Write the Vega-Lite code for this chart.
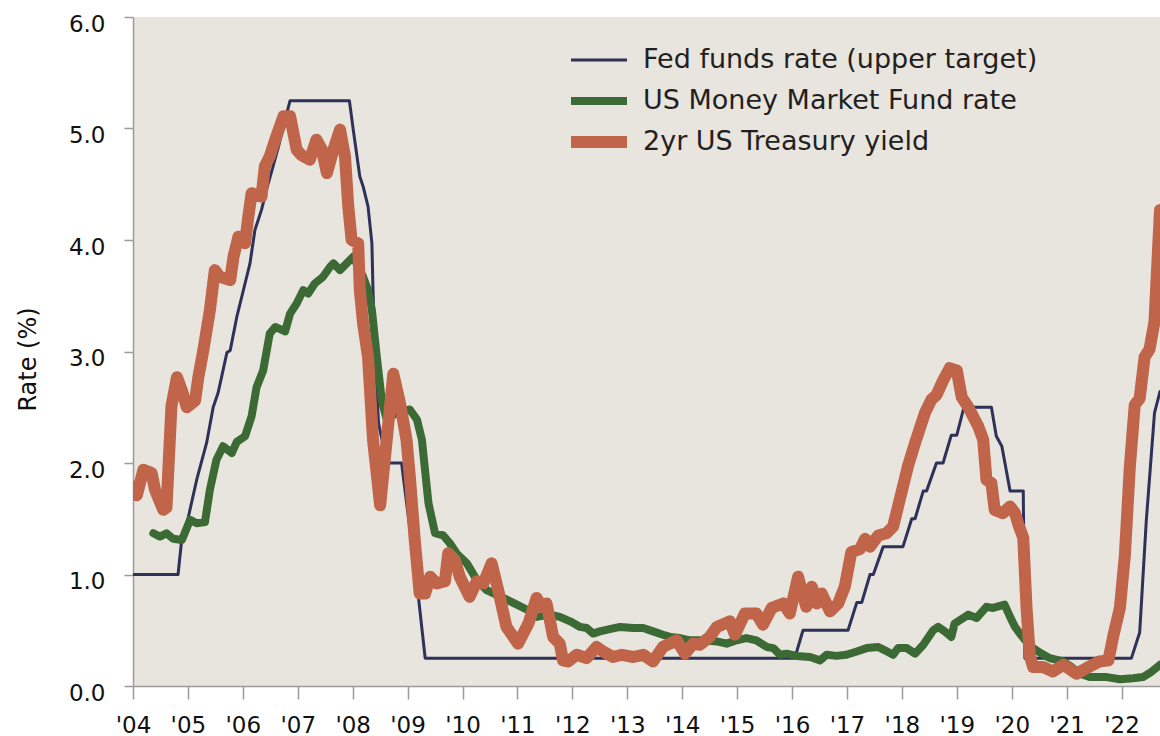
{
  "$schema": "https://vega.github.io/schema/vega-lite/v6.json",
  "width": 1027,
  "height": 669,
  "autosize": {"type": "none"},
  "padding": {"left": 133, "top": 17, "right": 0, "bottom": 50},
  "background": "#ffffff",
  "config": {
    "view": {"fill": "#E8E4DE", "stroke": null},
    "axis": {
      "grid": false,
      "domainColor": "#9b9b9b",
      "domainWidth": 1.5,
      "tickColor": "#9b9b9b",
      "tickWidth": 1.5,
      "labelFont": "DejaVu Sans",
      "labelFontSize": 23,
      "labelColor": "#111111",
      "titleFont": "DejaVu Sans",
      "titleFontSize": 24,
      "titleFontWeight": "normal",
      "titleColor": "#111111"
    }
  },
  "datasets": {
    "series": [
      {"k": "F", "name": "Fed funds rate (upper target)"},
      {"k": "M", "name": "US Money Market Fund rate"},
      {"k": "T", "name": "2yr US Treasury yield"}
    ],
    "rates": [
      {"k":"F","t":2004.00,"v":1.00},{"k":"F","t":2004.82,"v":1.00},{"k":"F","t":2004.88,"v":1.28},{"k":"F","t":2005.01,"v":1.52},
      {"k":"F","t":2005.16,"v":1.85},{"k":"F","t":2005.34,"v":2.18},{"k":"F","t":2005.46,"v":2.50},{"k":"F","t":2005.55,"v":2.63},
      {"k":"F","t":2005.71,"v":2.99},{"k":"F","t":2005.77,"v":3.01},{"k":"F","t":2005.89,"v":3.31},{"k":"F","t":2006.04,"v":3.61},
      {"k":"F","t":2006.13,"v":3.79},{"k":"F","t":2006.22,"v":4.09},{"k":"F","t":2006.34,"v":4.27},{"k":"F","t":2006.43,"v":4.45},
      {"k":"F","t":2006.55,"v":4.66},{"k":"F","t":2006.65,"v":4.84},{"k":"F","t":2006.77,"v":5.08},{"k":"F","t":2006.86,"v":5.25},
      {"k":"F","t":2007.94,"v":5.25},{"k":"F","t":2008.01,"v":4.99},{"k":"F","t":2008.13,"v":4.57},{"k":"F","t":2008.19,"v":4.48},
      {"k":"F","t":2008.28,"v":4.30},{"k":"F","t":2008.35,"v":3.97},{"k":"F","t":2008.37,"v":3.55},{"k":"F","t":2008.41,"v":2.95},
      {"k":"F","t":2008.47,"v":2.36},{"k":"F","t":2008.62,"v":2.00},{"k":"F","t":2008.89,"v":2.00},{"k":"F","t":2009.19,"v":0.83},
      {"k":"F","t":2009.32,"v":0.25},{"k":"F","t":2016.05,"v":0.25},{"k":"F","t":2016.20,"v":0.50},{"k":"F","t":2017.02,"v":0.50},
      {"k":"F","t":2017.18,"v":0.75},{"k":"F","t":2017.27,"v":0.75},{"k":"F","t":2017.42,"v":1.00},{"k":"F","t":2017.48,"v":1.00},
      {"k":"F","t":2017.66,"v":1.25},{"k":"F","t":2018.02,"v":1.25},{"k":"F","t":2018.18,"v":1.50},{"k":"F","t":2018.24,"v":1.50},
      {"k":"F","t":2018.39,"v":1.75},{"k":"F","t":2018.45,"v":1.75},{"k":"F","t":2018.63,"v":2.00},{"k":"F","t":2018.75,"v":2.00},
      {"k":"F","t":2018.90,"v":2.25},{"k":"F","t":2019.00,"v":2.25},{"k":"F","t":2019.13,"v":2.50},{"k":"F","t":2019.63,"v":2.50},
      {"k":"F","t":2019.72,"v":2.24},{"k":"F","t":2019.82,"v":2.15},{"k":"F","t":2019.97,"v":1.75},{"k":"F","t":2020.21,"v":1.75},
      {"k":"F","t":2020.24,"v":0.25},{"k":"F","t":2022.18,"v":0.25},{"k":"F","t":2022.33,"v":0.48},{"k":"F","t":2022.45,"v":1.48},
      {"k":"F","t":2022.60,"v":2.45},{"k":"F","t":2022.70,"v":2.64},

      {"k":"M","t":2004.37,"v":1.37},{"k":"M","t":2004.49,"v":1.34},{"k":"M","t":2004.61,"v":1.37},{"k":"M","t":2004.73,"v":1.32},
      {"k":"M","t":2004.89,"v":1.31},{"k":"M","t":2005.04,"v":1.49},{"k":"M","t":2005.16,"v":1.46},{"k":"M","t":2005.31,"v":1.47},
      {"k":"M","t":2005.40,"v":1.76},{"k":"M","t":2005.52,"v":2.03},{"k":"M","t":2005.64,"v":2.15},{"k":"M","t":2005.80,"v":2.09},
      {"k":"M","t":2005.89,"v":2.19},{"k":"M","t":2006.04,"v":2.24},{"k":"M","t":2006.16,"v":2.42},{"k":"M","t":2006.25,"v":2.68},
      {"k":"M","t":2006.37,"v":2.83},{"k":"M","t":2006.49,"v":3.16},{"k":"M","t":2006.59,"v":3.22},{"k":"M","t":2006.77,"v":3.18},
      {"k":"M","t":2006.86,"v":3.34},{"k":"M","t":2006.98,"v":3.43},{"k":"M","t":2007.10,"v":3.55},{"k":"M","t":2007.19,"v":3.52},
      {"k":"M","t":2007.31,"v":3.61},{"k":"M","t":2007.46,"v":3.67},{"k":"M","t":2007.59,"v":3.76},{"k":"M","t":2007.65,"v":3.79},
      {"k":"M","t":2007.77,"v":3.73},{"k":"M","t":2007.89,"v":3.79},{"k":"M","t":2008.01,"v":3.85},{"k":"M","t":2008.19,"v":3.67},
      {"k":"M","t":2008.28,"v":3.55},{"k":"M","t":2008.35,"v":3.37},{"k":"M","t":2008.44,"v":2.95},{"k":"M","t":2008.53,"v":2.56},
      {"k":"M","t":2008.62,"v":2.39},{"k":"M","t":2008.80,"v":2.45},{"k":"M","t":2009.04,"v":2.48},{"k":"M","t":2009.17,"v":2.39},
      {"k":"M","t":2009.26,"v":2.21},{"k":"M","t":2009.38,"v":1.64},{"k":"M","t":2009.50,"v":1.37},{"k":"M","t":2009.65,"v":1.35},
      {"k":"M","t":2009.77,"v":1.28},{"k":"M","t":2009.89,"v":1.19},{"k":"M","t":2010.08,"v":1.10},{"k":"M","t":2010.26,"v":0.95},
      {"k":"M","t":2010.44,"v":0.86},{"k":"M","t":2010.74,"v":0.79},{"k":"M","t":2010.99,"v":0.73},{"k":"M","t":2011.23,"v":0.67},
      {"k":"M","t":2011.35,"v":0.62},{"k":"M","t":2011.59,"v":0.64},{"k":"M","t":2011.77,"v":0.62},{"k":"M","t":2011.96,"v":0.58},
      {"k":"M","t":2012.14,"v":0.53},{"k":"M","t":2012.26,"v":0.52},{"k":"M","t":2012.38,"v":0.47},{"k":"M","t":2012.50,"v":0.49},
      {"k":"M","t":2012.68,"v":0.51},{"k":"M","t":2012.87,"v":0.53},{"k":"M","t":2013.11,"v":0.52},{"k":"M","t":2013.29,"v":0.52},
      {"k":"M","t":2013.47,"v":0.49},{"k":"M","t":2013.65,"v":0.46},{"k":"M","t":2013.78,"v":0.44},{"k":"M","t":2013.96,"v":0.43},
      {"k":"M","t":2014.14,"v":0.41},{"k":"M","t":2014.38,"v":0.41},{"k":"M","t":2014.63,"v":0.40},{"k":"M","t":2014.81,"v":0.38},
      {"k":"M","t":2014.99,"v":0.41},{"k":"M","t":2015.17,"v":0.43},{"k":"M","t":2015.35,"v":0.41},{"k":"M","t":2015.54,"v":0.35},
      {"k":"M","t":2015.66,"v":0.34},{"k":"M","t":2015.78,"v":0.28},{"k":"M","t":2015.90,"v":0.29},{"k":"M","t":2016.08,"v":0.27},
      {"k":"M","t":2016.33,"v":0.26},{"k":"M","t":2016.51,"v":0.23},{"k":"M","t":2016.63,"v":0.28},{"k":"M","t":2016.81,"v":0.27},
      {"k":"M","t":2016.99,"v":0.28},{"k":"M","t":2017.18,"v":0.31},{"k":"M","t":2017.36,"v":0.34},{"k":"M","t":2017.57,"v":0.35},
      {"k":"M","t":2017.69,"v":0.32},{"k":"M","t":2017.84,"v":0.28},{"k":"M","t":2017.93,"v":0.34},{"k":"M","t":2018.09,"v":0.34},
      {"k":"M","t":2018.24,"v":0.29},{"k":"M","t":2018.39,"v":0.37},{"k":"M","t":2018.57,"v":0.50},{"k":"M","t":2018.66,"v":0.53},
      {"k":"M","t":2018.78,"v":0.49},{"k":"M","t":2018.90,"v":0.44},{"k":"M","t":2018.96,"v":0.56},{"k":"M","t":2019.12,"v":0.61},
      {"k":"M","t":2019.21,"v":0.64},{"k":"M","t":2019.36,"v":0.61},{"k":"M","t":2019.54,"v":0.71},{"k":"M","t":2019.66,"v":0.70},
      {"k":"M","t":2019.87,"v":0.73},{"k":"M","t":2019.97,"v":0.62},{"k":"M","t":2020.06,"v":0.53},{"k":"M","t":2020.18,"v":0.45},
      {"k":"M","t":2020.33,"v":0.36},{"k":"M","t":2020.51,"v":0.30},{"k":"M","t":2020.69,"v":0.25},{"k":"M","t":2020.94,"v":0.22},
      {"k":"M","t":2021.09,"v":0.17},{"k":"M","t":2021.24,"v":0.11},{"k":"M","t":2021.42,"v":0.08},{"k":"M","t":2021.73,"v":0.08},
      {"k":"M","t":2021.97,"v":0.06},{"k":"M","t":2022.21,"v":0.07},{"k":"M","t":2022.39,"v":0.08},{"k":"M","t":2022.55,"v":0.13},
      {"k":"M","t":2022.70,"v":0.19},

      {"k":"T","t":2004.00,"v":1.79},{"k":"T","t":2004.07,"v":1.71},{"k":"T","t":2004.19,"v":1.94},{"k":"T","t":2004.34,"v":1.91},
      {"k":"T","t":2004.40,"v":1.76},{"k":"T","t":2004.55,"v":1.58},{"k":"T","t":2004.61,"v":1.60},{"k":"T","t":2004.70,"v":2.51},
      {"k":"T","t":2004.80,"v":2.77},{"k":"T","t":2004.89,"v":2.65},{"k":"T","t":2004.98,"v":2.50},{"k":"T","t":2005.13,"v":2.56},
      {"k":"T","t":2005.19,"v":2.77},{"k":"T","t":2005.28,"v":3.01},{"k":"T","t":2005.40,"v":3.37},{"k":"T","t":2005.49,"v":3.73},
      {"k":"T","t":2005.58,"v":3.67},{"k":"T","t":2005.77,"v":3.64},{"k":"T","t":2005.83,"v":3.85},{"k":"T","t":2005.92,"v":4.03},
      {"k":"T","t":2006.04,"v":3.97},{"k":"T","t":2006.10,"v":4.21},{"k":"T","t":2006.16,"v":4.42},{"k":"T","t":2006.34,"v":4.39},
      {"k":"T","t":2006.40,"v":4.66},{"k":"T","t":2006.49,"v":4.75},{"k":"T","t":2006.59,"v":4.90},{"k":"T","t":2006.74,"v":5.11},
      {"k":"T","t":2006.86,"v":5.11},{"k":"T","t":2006.98,"v":4.81},{"k":"T","t":2007.07,"v":4.76},{"k":"T","t":2007.22,"v":4.72},
      {"k":"T","t":2007.34,"v":4.90},{"k":"T","t":2007.44,"v":4.81},{"k":"T","t":2007.53,"v":4.60},{"k":"T","t":2007.65,"v":4.81},
      {"k":"T","t":2007.77,"v":4.99},{"k":"T","t":2007.86,"v":4.75},{"k":"T","t":2007.92,"v":4.30},{"k":"T","t":2007.98,"v":4.00},
      {"k":"T","t":2008.10,"v":3.97},{"k":"T","t":2008.13,"v":3.55},{"k":"T","t":2008.19,"v":3.25},{"k":"T","t":2008.28,"v":2.95},
      {"k":"T","t":2008.37,"v":2.21},{"k":"T","t":2008.50,"v":1.62},{"k":"T","t":2008.62,"v":2.21},{"k":"T","t":2008.74,"v":2.80},
      {"k":"T","t":2008.86,"v":2.54},{"k":"T","t":2008.98,"v":2.21},{"k":"T","t":2009.04,"v":1.88},{"k":"T","t":2009.13,"v":1.31},
      {"k":"T","t":2009.22,"v":0.83},{"k":"T","t":2009.32,"v":0.83},{"k":"T","t":2009.41,"v":0.98},{"k":"T","t":2009.53,"v":0.92},
      {"k":"T","t":2009.68,"v":0.94},{"k":"T","t":2009.74,"v":1.19},{"k":"T","t":2009.86,"v":1.13},{"k":"T","t":2009.95,"v":0.98},
      {"k":"T","t":2010.13,"v":0.80},{"k":"T","t":2010.26,"v":0.94},{"k":"T","t":2010.38,"v":0.92},{"k":"T","t":2010.53,"v":1.10},
      {"k":"T","t":2010.65,"v":0.86},{"k":"T","t":2010.80,"v":0.53},{"k":"T","t":2011.01,"v":0.38},{"k":"T","t":2011.20,"v":0.56},
      {"k":"T","t":2011.35,"v":0.79},{"k":"T","t":2011.44,"v":0.71},{"k":"T","t":2011.53,"v":0.74},{"k":"T","t":2011.65,"v":0.44},
      {"k":"T","t":2011.77,"v":0.38},{"k":"T","t":2011.83,"v":0.23},{"k":"T","t":2011.92,"v":0.22},{"k":"T","t":2012.08,"v":0.28},
      {"k":"T","t":2012.26,"v":0.25},{"k":"T","t":2012.44,"v":0.35},{"k":"T","t":2012.56,"v":0.31},{"k":"T","t":2012.74,"v":0.26},
      {"k":"T","t":2012.90,"v":0.28},{"k":"T","t":2013.11,"v":0.26},{"k":"T","t":2013.29,"v":0.28},{"k":"T","t":2013.47,"v":0.22},
      {"k":"T","t":2013.65,"v":0.35},{"k":"T","t":2013.90,"v":0.41},{"k":"T","t":2014.05,"v":0.29},{"k":"T","t":2014.20,"v":0.38},
      {"k":"T","t":2014.32,"v":0.37},{"k":"T","t":2014.50,"v":0.44},{"k":"T","t":2014.63,"v":0.53},{"k":"T","t":2014.87,"v":0.58},
      {"k":"T","t":2014.96,"v":0.46},{"k":"T","t":2015.14,"v":0.65},{"k":"T","t":2015.35,"v":0.65},{"k":"T","t":2015.47,"v":0.55},
      {"k":"T","t":2015.63,"v":0.70},{"k":"T","t":2015.84,"v":0.74},{"k":"T","t":2015.96,"v":0.65},{"k":"T","t":2016.11,"v":0.98},
      {"k":"T","t":2016.26,"v":0.71},{"k":"T","t":2016.36,"v":0.89},{"k":"T","t":2016.45,"v":0.74},{"k":"T","t":2016.54,"v":0.83},
      {"k":"T","t":2016.69,"v":0.67},{"k":"T","t":2016.84,"v":0.74},{"k":"T","t":2016.96,"v":0.89},{"k":"T","t":2017.08,"v":1.20},
      {"k":"T","t":2017.24,"v":1.23},{"k":"T","t":2017.33,"v":1.32},{"k":"T","t":2017.42,"v":1.25},{"k":"T","t":2017.57,"v":1.35},
      {"k":"T","t":2017.72,"v":1.37},{"k":"T","t":2017.84,"v":1.43},{"k":"T","t":2017.99,"v":1.73},{"k":"T","t":2018.11,"v":1.97},
      {"k":"T","t":2018.24,"v":2.18},{"k":"T","t":2018.42,"v":2.45},{"k":"T","t":2018.54,"v":2.57},{"k":"T","t":2018.63,"v":2.61},
      {"k":"T","t":2018.75,"v":2.74},{"k":"T","t":2018.87,"v":2.85},{"k":"T","t":2019.00,"v":2.83},{"k":"T","t":2019.09,"v":2.59},
      {"k":"T","t":2019.21,"v":2.50},{"k":"T","t":2019.39,"v":2.33},{"k":"T","t":2019.48,"v":2.21},{"k":"T","t":2019.54,"v":1.85},
      {"k":"T","t":2019.63,"v":1.82},{"k":"T","t":2019.69,"v":1.58},{"k":"T","t":2019.84,"v":1.55},{"k":"T","t":2019.97,"v":1.61},
      {"k":"T","t":2020.06,"v":1.55},{"k":"T","t":2020.12,"v":1.45},{"k":"T","t":2020.21,"v":1.33},{"k":"T","t":2020.27,"v":0.70},
      {"k":"T","t":2020.33,"v":0.27},{"k":"T","t":2020.39,"v":0.17},{"k":"T","t":2020.57,"v":0.17},{"k":"T","t":2020.75,"v":0.13},
      {"k":"T","t":2020.94,"v":0.19},{"k":"T","t":2021.18,"v":0.11},{"k":"T","t":2021.36,"v":0.16},{"k":"T","t":2021.60,"v":0.22},
      {"k":"T","t":2021.76,"v":0.23},{"k":"T","t":2021.85,"v":0.45},{"k":"T","t":2021.97,"v":0.70},{"k":"T","t":2022.06,"v":1.17},
      {"k":"T","t":2022.15,"v":1.96},{"k":"T","t":2022.24,"v":2.52},{"k":"T","t":2022.33,"v":2.58},{"k":"T","t":2022.42,"v":2.95},
      {"k":"T","t":2022.51,"v":3.02},{"k":"T","t":2022.60,"v":3.27},{"k":"T","t":2022.70,"v":4.27}
    ]
  },
  "data": {"name": "rates"},
  "transform": [
    {"lookup": "k", "from": {"data": {"name": "series"}, "key": "k", "fields": ["name"]}}
  ],
  "mark": {"type": "line", "clip": true, "strokeCap": "round", "strokeJoin": "round"},
  "encoding": {
    "x": {
      "field": "t",
      "type": "quantitative",
      "scale": {"domain": [2004, 2022.7], "nice": false, "zero": false},
      "axis": {
        "title": null,
        "values": [2004,2005,2006,2007,2008,2009,2010,2011,2012,2013,2014,2015,2016,2017,2018,2019,2020,2021,2022],
        "labelExpr": "\"'\" + substring(toString(datum.value), 2, 4)",
        "tickSize": 13,
        "labelPadding": 15,
        "labelFlush": false,
        "labelOverlap": false
      }
    },
    "y": {
      "field": "v",
      "type": "quantitative",
      "scale": {"domain": [0, 6], "nice": false},
      "axis": {
        "title": "Rate (%)",
        "values": [0,1,2,3,4,5,6],
        "format": ".1f",
        "tickSize": 9,
        "labelPadding": 19,
        "labelOffset": 7,
        "titleX": -98,
        "titleY": 342,
        "titleAngle": 270,
        "titleBaseline": "alphabetic"
      }
    },
    "color": {
      "field": "name",
      "type": "nominal",
      "scale": {
        "domain": ["Fed funds rate (upper target)", "US Money Market Fund rate", "2yr US Treasury yield"],
        "range": ["#2E3158", "#3B6A34", "#C0654A"]
      },
      "legend": {
        "title": null,
        "orient": "none",
        "legendX": 432,
        "legendY": 29,
        "padding": 0,
        "clipHeight": 28,
        "rowPadding": 13,
        "symbolSize": 3136,
        "symbolType": "stroke",
        "labelFont": "DejaVu Sans",
        "labelFontSize": 27,
        "labelColor": "#231F20",
        "labelOffset": 10,
        "labelLimit": 600
      }
    },
    "strokeWidth": {
      "field": "name",
      "type": "nominal",
      "scale": {
        "type": "ordinal",
        "domain": ["Fed funds rate (upper target)", "US Money Market Fund rate", "2yr US Treasury yield"],
        "range": [3, 8, 12]
      }
    }
  }
}
